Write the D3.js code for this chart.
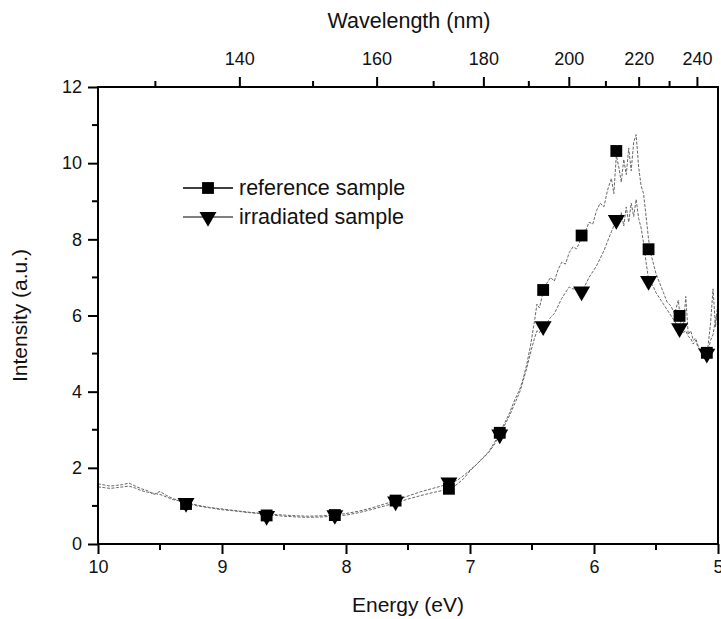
<!DOCTYPE html>
<html>
<head>
<meta charset="utf-8">
<script src="https://cdn.jsdelivr.net/npm/d3@7"></script>
<style>
  body { margin: 0; background: #fff; }
  svg text { font-family: "Liberation Sans", Arial, sans-serif; fill: #111; }
</style>
</head>
<body>
<div id="chart"></div>
<script>
// Spectra: [energy (eV), intensity (a.u.)]
const referenceCurve = [
  [10.00,1.58],[9.95,1.55],[9.90,1.52],[9.85,1.54],[9.80,1.56],[9.75,1.60],[9.70,1.52],[9.65,1.45],
  [9.60,1.40],[9.55,1.30],[9.50,1.38],[9.45,1.28],[9.40,1.20],[9.30,1.08],[9.20,1.00],[9.10,0.95],
  [9.00,0.90],[8.90,0.87],[8.80,0.83],[8.70,0.80],[8.60,0.76],[8.50,0.73],[8.40,0.71],[8.30,0.70],
  [8.20,0.71],[8.10,0.73],[8.00,0.76],[7.90,0.82],[7.80,0.90],[7.70,0.99],[7.60,1.08],[7.50,1.18],
  [7.40,1.27],[7.30,1.35],[7.20,1.42],[7.15,1.46],[7.10,1.58],[7.05,1.72],[7.00,1.92],[6.95,2.08],
  [6.90,2.25],[6.85,2.42],[6.80,2.68],[6.76,2.92],[6.72,3.18],[6.68,3.45],[6.64,3.78],[6.60,4.05],
  [6.57,4.35],[6.54,4.75],[6.51,5.25],[6.48,5.85],[6.46,6.30],[6.44,6.20],[6.41,6.62],[6.38,6.85],
  [6.35,7.00],[6.32,6.90],[6.29,7.20],[6.26,7.40],[6.23,7.35],[6.20,7.65],[6.17,7.80],[6.14,7.75],
  [6.10,8.05],[6.07,8.20],[6.04,8.45],[6.01,8.40],[5.98,8.75],[5.95,8.95],[5.92,8.85],[5.89,9.30],
  [5.86,9.60],[5.84,9.20],[5.82,10.20],[5.80,9.90],[5.78,9.50],[5.76,10.10],[5.74,9.70],[5.72,10.40],
  [5.70,9.80],[5.68,10.55],[5.66,10.75],[5.64,9.90],[5.62,9.40],[5.60,9.20],[5.58,8.60],[5.56,8.00],
  [5.54,7.60],[5.52,7.35],[5.50,7.10],[5.47,6.85],[5.44,6.60],[5.41,6.35],[5.38,6.25],[5.35,6.05],
  [5.32,6.40],[5.30,5.80],[5.28,5.65],[5.26,6.50],[5.24,5.50],[5.22,5.60],[5.20,5.35],[5.18,5.40],
  [5.16,5.20],[5.14,5.10],[5.12,5.00],[5.10,4.95],[5.08,5.20],[5.06,5.80],[5.04,6.70],[5.02,5.70],
  [5.00,6.40]
];

const irradiatedCurve = [
  [10.00,1.50],[9.95,1.48],[9.90,1.46],[9.85,1.48],[9.80,1.50],[9.75,1.52],[9.70,1.47],[9.65,1.40],
  [9.60,1.36],[9.55,1.33],[9.50,1.30],[9.45,1.24],[9.40,1.17],[9.30,1.10],[9.20,1.02],[9.10,0.96],
  [9.00,0.92],[8.90,0.88],[8.80,0.84],[8.70,0.81],[8.60,0.78],[8.50,0.76],[8.40,0.74],[8.30,0.73],
  [8.20,0.74],[8.10,0.76],[8.00,0.80],[7.90,0.86],[7.80,0.94],[7.70,1.04],[7.60,1.14],[7.50,1.26],
  [7.40,1.37],[7.30,1.46],[7.20,1.55],[7.15,1.60],[7.10,1.68],[7.05,1.80],[7.00,1.94],[6.95,2.08],
  [6.90,2.24],[6.85,2.40],[6.80,2.63],[6.76,2.88],[6.72,3.12],[6.68,3.38],[6.64,3.68],[6.60,3.98],
  [6.57,4.30],[6.54,4.65],[6.51,5.05],[6.48,5.40],[6.46,5.60],[6.44,5.55],[6.41,5.72],[6.38,5.80],
  [6.35,5.95],[6.32,6.05],[6.29,6.25],[6.26,6.45],[6.23,6.60],[6.20,6.75],[6.17,6.70],[6.14,6.68],
  [6.10,6.62],[6.07,6.80],[6.04,7.00],[6.01,7.15],[5.98,7.30],[5.95,7.50],[5.92,7.70],[5.89,7.95],
  [5.86,8.20],[5.84,8.35],[5.82,8.45],[5.80,8.55],[5.78,8.70],[5.76,8.35],[5.74,8.85],[5.72,8.45],
  [5.70,8.95],[5.68,8.60],[5.66,9.05],[5.64,8.55],[5.62,8.30],[5.60,7.90],[5.58,7.40],[5.56,6.95],
  [5.54,6.85],[5.52,6.75],[5.50,6.60],[5.47,6.45],[5.44,6.30],[5.41,6.15],[5.38,6.00],[5.35,5.85],
  [5.32,5.70],[5.30,5.62],[5.28,5.55],[5.26,5.60],[5.24,5.45],[5.22,5.40],[5.20,5.25],[5.18,5.35],
  [5.16,5.15],[5.14,5.05],[5.12,5.00],[5.10,4.95],[5.08,5.05],[5.06,5.35],[5.04,5.50],[5.02,5.90],
  [5.00,6.10]
];

// Symbol positions
const markerEnergies = [9.29, 8.64, 8.09, 7.60, 7.17, 6.76, 6.41, 6.10, 5.82, 5.56, 5.31, 5.09];
const referenceMarks = [1.05, 0.75, 0.76, 1.14, 1.45, 2.92, 6.67, 8.10, 10.32, 7.74, 5.99, 5.02];
const irradiatedMarks = [1.08, 0.74, 0.76, 1.12, 1.62, 2.88, 5.72, 6.63, 8.51, 6.91, 5.67, 5.00];

// Axis ticks
const energyTicks = [10, 9, 8, 7, 6, 5];
const energyMinor = [9.5, 8.5, 7.5, 6.5, 5.5];
const intensityTicks = [0, 2, 4, 6, 8, 10, 12];
const intensityMinor = [1, 3, 5, 7, 9, 11];
const wavelengthTicks = [140, 160, 180, 200, 220, 240];
const wavelengthMinor = [130, 150, 170, 190, 210, 230];

const width = 721;
const height = 619;
const plot = { left: 98, right: 718, top: 87, bottom: 544 };

const svg = d3
  .select("#chart")
  .append("svg")
  .attr("width", width)
  .attr("height", height);

const x = d3.scaleLinear().domain([10, 5]).range([plot.left, plot.right]);
const y = d3.scaleLinear().domain([0, 12]).range([plot.bottom, plot.top]);
const hc = 1239.84; // eV * nm
const xWave = (nm) => x(hc / nm);

svg
  .append("clipPath")
  .attr("id", "clip")
  .append("rect")
  .attr("x", plot.left)
  .attr("y", plot.top)
  .attr("width", plot.right - plot.left)
  .attr("height", plot.bottom - plot.top);

// Curves
const line = d3
  .line()
  .x((d) => x(d[0]))
  .y((d) => y(d[1]));

const curves = svg.append("g").attr("clip-path", "url(#clip)");
[referenceCurve, irradiatedCurve].forEach((c) => {
  curves
    .append("path")
    .datum(c)
    .attr("d", line)
    .attr("fill", "none")
    .attr("stroke", "#666")
    .attr("stroke-width", 1)
    .attr("stroke-dasharray", "3,1.5");
});

// Markers
const square = d3.symbol().type(d3.symbolSquare).size(140);
const triangle = d3.symbol().type(d3.symbolTriangle).size(125);

svg
  .append("g")
  .selectAll("path")
  .data(markerEnergies)
  .join("path")
  .attr("d", square)
  .attr("transform", (d, i) => `translate(${x(d)},${y(referenceMarks[i])})`)
  .attr("fill", "#000");

svg
  .append("g")
  .selectAll("path")
  .data(markerEnergies)
  .join("path")
  .attr("d", triangle)
  .attr("transform", (d, i) => `translate(${x(d)},${y(irradiatedMarks[i])}) rotate(180)`)
  .attr("fill", "#000");

// Frame
svg
  .append("rect")
  .attr("x", plot.left)
  .attr("y", plot.top)
  .attr("width", plot.right - plot.left)
  .attr("height", plot.bottom - plot.top)
  .attr("fill", "none")
  .attr("stroke", "#000")
  .attr("stroke-width", 2);

// Bottom axis
const bottom = svg.append("g").attr("transform", `translate(0,${plot.bottom})`);
bottom
  .call(d3.axisBottom(x).tickValues(energyTicks).tickFormat(d3.format("d")).tickSize(10).tickPadding(6))
  .call((g) => g.select(".domain").remove());
bottom
  .selectAll(".minor")
  .data(energyMinor)
  .join("line")
  .attr("x1", (d) => x(d))
  .attr("x2", (d) => x(d))
  .attr("y2", 6);

// Left axis
const left = svg.append("g").attr("transform", `translate(${plot.left},0)`);
left
  .call(d3.axisLeft(y).tickValues(intensityTicks).tickFormat(d3.format("d")).tickSize(10).tickPadding(6))
  .call((g) => g.select(".domain").remove());
left
  .selectAll(".minor")
  .data(intensityMinor)
  .join("line")
  .attr("y1", (d) => y(d))
  .attr("y2", (d) => y(d))
  .attr("x2", -6);

// Top axis (wavelength)
const topAxis = svg.append("g").attr("transform", `translate(0,${plot.top})`);
topAxis
  .selectAll(".major")
  .data(wavelengthTicks)
  .join("line")
  .attr("x1", (d) => xWave(d))
  .attr("x2", (d) => xWave(d))
  .attr("y2", -10);
topAxis
  .selectAll(".minorw")
  .data(wavelengthMinor)
  .join("line")
  .attr("x1", (d) => xWave(d))
  .attr("x2", (d) => xWave(d))
  .attr("y2", -6);
topAxis
  .selectAll("text")
  .data(wavelengthTicks)
  .join("text")
  .attr("x", (d) => xWave(d))
  .attr("y", -22)
  .attr("text-anchor", "middle")
  .style("font-size", "18px")
  .text((d) => d);

svg.selectAll("g line").attr("stroke", "#000").attr("stroke-width", 2);
svg.selectAll(".tick text").style("font-size", "18px").attr("fill", "#111");

// Axis titles
svg
  .append("text")
  .attr("x", (plot.left + plot.right) / 2)
  .attr("y", 612)
  .attr("text-anchor", "middle")
  .style("font-size", "21px")
  .text("Energy (eV)");

svg
  .append("text")
  .attr("x", 409)
  .attr("y", 28)
  .attr("text-anchor", "middle")
  .style("font-size", "21.5px")
  .text("Wavelength (nm)");

svg
  .append("text")
  .attr("transform", `translate(27,${(plot.top + plot.bottom) / 2}) rotate(-90)`)
  .attr("text-anchor", "middle")
  .style("font-size", "21px")
  .text("Intensity (a.u.)");

// Legend
const legendItems = [
  { label: "reference sample", symbol: square, rot: 0, width: 1.5 },
  { label: "irradiated sample", symbol: triangle, rot: 180, width: 1 }
];
const legend = svg.append("g").attr("transform", "translate(183,188)");
legendItems.forEach((d, i) => {
  const row = legend.append("g").attr("transform", `translate(0,${i * 29})`);
  row
    .append("line")
    .attr("x1", 0)
    .attr("x2", 50)
    .attr("stroke", "#000")
    .attr("stroke-width", d.width);
  row
    .append("path")
    .attr("d", d.symbol)
    .attr("transform", `translate(25,0) rotate(${d.rot})`)
    .attr("fill", "#000");
  row
    .append("text")
    .attr("x", 56)
    .attr("y", 7)
    .style("font-size", "21.5px")
    .text(d.label);
});
</script>
</body>
</html>
